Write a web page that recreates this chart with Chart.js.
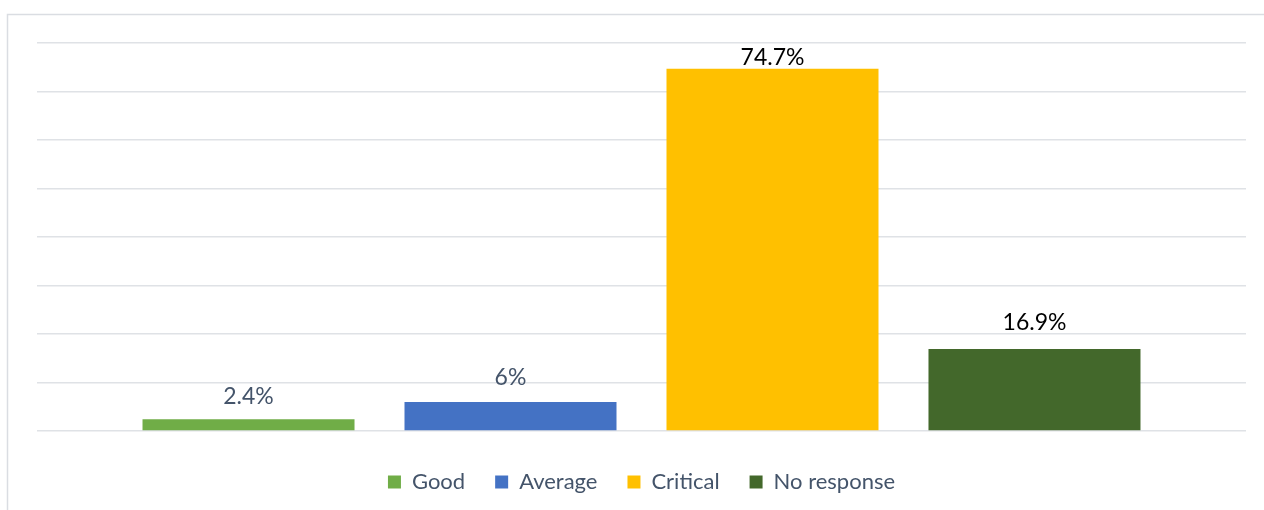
<!DOCTYPE html>
<html>
<head>
    <title>Grafico</title>
    <script src="https://cdn.jsdelivr.net/npm/chart.js"></script>
    <style>
        body { margin: 0; background: #ffffff; }
        #myChart { display: block; }
    </style>
</head>
<body>
    <canvas id="myChart" width="1264" height="510"></canvas>
    <script>
        const categories = ['Good', 'Average', 'Critical', 'No response'];
        const values = [2.4, 6, 74.7, 16.9];
        const valueLabels = ['2.4%', '6%', '74.7%', '16.9%'];
        const colors = ['#70ad47', '#4472c4', '#ffc000', '#43682b'];
        const labelColors = ['#44546a', '#44546a', '#000000', '#000000'];

        const fontFamily = 'Lato, "Noto Sans", sans-serif';

        // borde del grafico (recortado a la derecha y abajo como en la imagen)
        const frame = {
            id: 'frame',
            beforeDraw(chart) {
                const ctx = chart.ctx;
                ctx.save();
                ctx.strokeStyle = '#dadde2';
                ctx.lineWidth = 1.5;
                ctx.strokeRect(7.5, 14.5, 3000, 3000);
                ctx.restore();
            }
        };

        // etiquetas encima de cada barra
        const barLabels = {
            id: 'barLabels',
            afterDatasetsDraw(chart, args, opts) {
                const ctx = chart.ctx;
                ctx.save();
                ctx.font = opts.size + 'px ' + fontFamily;
                ctx.textAlign = 'center';
                ctx.textBaseline = 'bottom';
                chart.data.datasets.forEach((ds, i) => {
                    const bar = chart.getDatasetMeta(i).data[0];
                    ctx.fillStyle = labelColors[i];
                    ctx.fillText(valueLabels[i], bar.x, bar.y - opts.gaps[i]);
                });
                ctx.restore();
            }
        };

        const ctx = document.getElementById('myChart').getContext('2d');
        const myChart = new Chart(ctx, {
            type: 'bar',
            data: {
                labels: [''],
                datasets: categories.map((c, i) => ({
                    label: c,
                    data: [values[i]],
                    backgroundColor: colors[i],
                    borderWidth: 0,
                    categoryPercentage: 0.8668,
                    barPercentage: 0.8092
                }))
            },
            options: {
                responsive: false,
                animation: false,
                layout: {
                    padding: { left: 37, right: 18, top: 43, bottom: 7 }
                },
                plugins: {
                    legend: {
                        position: 'bottom',
                        labels: {
                            boxWidth: 13,
                            boxHeight: 13,
                            padding: 30,
                            color: '#44546a',
                            font: { family: fontFamily, size: 22 }
                        }
                    },
                    tooltip: { enabled: false },
                    barLabels: { size: 23, gaps: [11, 13, 0, 15] }
                },
                scales: {
                    x: {
                        ticks: { display: false },
                        grid: { display: false, drawTicks: false },
                        border: { display: false },
                        afterFit: (s) => { s.height = 10; }
                    },
                    y: {
                        min: 0,
                        max: 80,
                        ticks: { display: false, stepSize: 10 },
                        grid: { color: '#dfe2e6', lineWidth: 1.5, drawTicks: false },
                        border: { display: false },
                        afterFit: (s) => { s.width = 0; }
                    }
                }
            },
            plugins: [frame, barLabels]
        });
    </script>
</body>
</html>
